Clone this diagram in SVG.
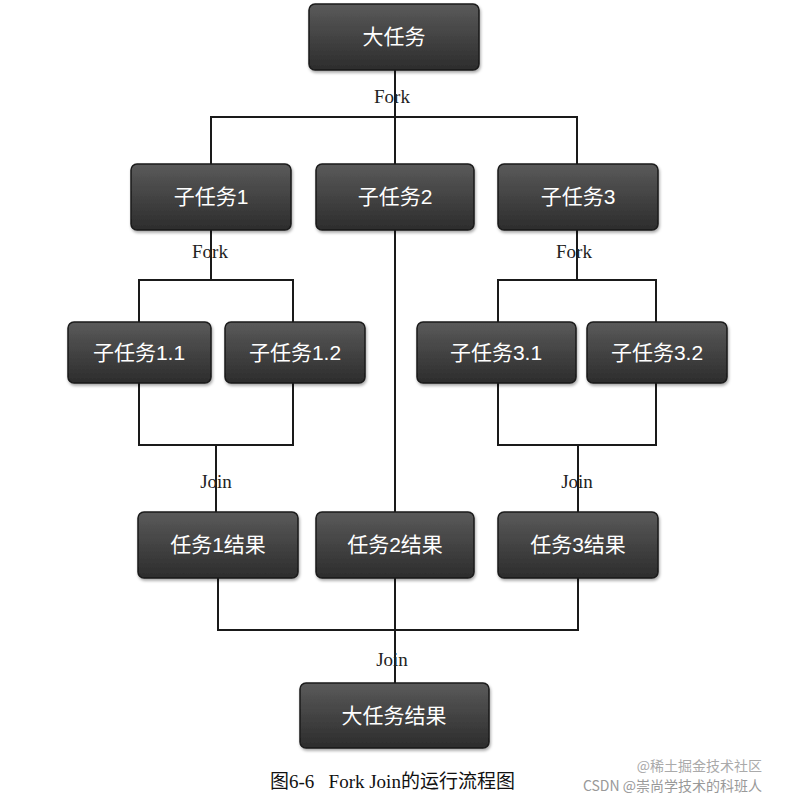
<svg xmlns="http://www.w3.org/2000/svg" width="785" height="800" viewBox="0 0 785 800">
<defs>
<linearGradient id="g" x1="0" y1="0" x2="0" y2="1"><stop offset="0" stop-color="#5a5a5a"/><stop offset="1" stop-color="#2c2c2c"/></linearGradient>
<filter id="sh" x="-10%" y="-10%" width="130%" height="140%"><feDropShadow dx="1" dy="2" stdDeviation="1.5" flood-opacity="0.35"/></filter>
</defs>
<style>
.b{fill:url(#g);stroke:#1a1a1a;stroke-width:1.5;filter:url(#sh)}
.t{fill:#fff;font-family:"Liberation Sans","Noto Sans CJK SC",sans-serif;font-size:21px;text-anchor:middle}
.l{fill:#222;font-family:"Liberation Serif","Noto Sans CJK SC",serif;font-size:19px;text-anchor:middle}
.c{fill:none;stroke:#1a1a1a;stroke-width:2}
</style>
<rect width="785" height="800" fill="#fff"/>
<g id="connectors">
<path class="c" d="M395 70V164M211 164V117H577V164"/>
<path class="c" d="M211 230V280M139 322V280H293V322"/>
<path class="c" d="M577 230V280M498 322V280H656V322"/>
<path class="c" d="M139 383V445H293V383M216 445V512"/>
<path class="c" d="M498 383V445H656V383M578 445V512"/>
<path class="c" d="M395 230V683M218 578V630H578V578"/>
<text class="l" x="392" y="103">Fork</text>
<text class="l" x="210" y="258">Fork</text>
<text class="l" x="574" y="258">Fork</text>
<text class="l" x="216" y="488">Join</text>
<text class="l" x="577" y="488">Join</text>
<text class="l" x="392" y="666">Join</text>
</g>
<g id="n0"><rect class="b" x="309" y="4" width="170" height="66" rx="6"/><text class="t" x="394" y="44">大任务</text></g>
<g id="n1"><rect class="b" x="131" y="164" width="160" height="66" rx="6"/><text class="t" x="211" y="204">子任务1</text></g>
<g id="n2"><rect class="b" x="316" y="164" width="158" height="66" rx="6"/><text class="t" x="395" y="204">子任务2</text></g>
<g id="n3"><rect class="b" x="498" y="164" width="160" height="66" rx="6"/><text class="t" x="578" y="204">子任务3</text></g>
<g id="n11"><rect class="b" x="68" y="322" width="143" height="61" rx="6"/><text class="t" x="139" y="360">子任务1.1</text></g>
<g id="n12"><rect class="b" x="225" y="322" width="140" height="61" rx="6"/><text class="t" x="295" y="360">子任务1.2</text></g>
<g id="n31"><rect class="b" x="417" y="322" width="159" height="61" rx="6"/><text class="t" x="496" y="360">子任务3.1</text></g>
<g id="n32"><rect class="b" x="587" y="322" width="140" height="61" rx="6"/><text class="t" x="657" y="360">子任务3.2</text></g>
<g id="r1"><rect class="b" x="138" y="512" width="160" height="66" rx="6"/><text class="t" x="218" y="552">任务1结果</text></g>
<g id="r2"><rect class="b" x="316" y="512" width="158" height="66" rx="6"/><text class="t" x="395" y="552">任务2结果</text></g>
<g id="r3"><rect class="b" x="498" y="512" width="160" height="66" rx="6"/><text class="t" x="578" y="552">任务3结果</text></g>
<g id="r0"><rect class="b" x="300" y="683" width="189" height="65" rx="6"/><text class="t" x="394" y="723">大任务结果</text></g>
<text x="270" y="788" font-family="Liberation Serif,'Noto Sans CJK SC',serif" font-size="19" fill="#111" xml:space="preserve">图6-6   Fork Join的运行流程图</text>
<text x="762" y="771" text-anchor="end" font-family="'Noto Sans CJK SC',sans-serif" font-size="14" fill="#aaa">@稀土掘金技术社区</text>
<text x="762" y="791" text-anchor="end" font-family="'Noto Sans CJK SC',sans-serif" font-size="14" fill="#999">CSDN @崇尚学技术的科班人</text>
</svg>
